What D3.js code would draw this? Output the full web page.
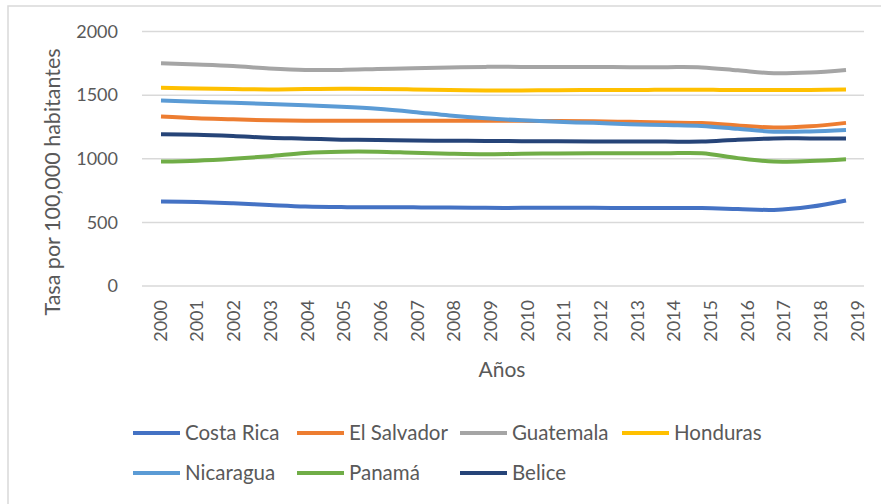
<!DOCTYPE html>
<html>
<head>
<meta charset="utf-8">
<script src="https://cdn.jsdelivr.net/npm/d3@7/dist/d3.min.js"></script>
<style>
  html, body { margin: 0; padding: 0; background: #fff; }
  svg { display: block; }
  text { font-family: Lato, "Open Sans", sans-serif; fill: #595959; }
</style>
</head>
<body>
<svg id="chart" width="881" height="504"></svg>
<script>
// Tasa por 100,000 habitantes, 2000–2019
const years = ["2000","2001","2002","2003","2004","2005","2006","2007","2008","2009",
               "2010","2011","2012","2013","2014","2015","2016","2017","2018","2019"];
const yTicks = [0, 500, 1000, 1500, 2000];

const costaRica  = [665, 660, 650, 637, 625, 620, 619, 618, 616, 614, 614, 614, 614, 613, 613, 612, 605, 598, 622, 672];
const elSalvador = [1332, 1318, 1310, 1302, 1298, 1298, 1298, 1298, 1298, 1298, 1298, 1296, 1294, 1290, 1285, 1280, 1262, 1245, 1255, 1282];
const guatemala  = [1750, 1740, 1728, 1710, 1698, 1698, 1705, 1712, 1718, 1722, 1722, 1722, 1722, 1720, 1720, 1718, 1695, 1672, 1678, 1698];
const honduras   = [1558, 1552, 1548, 1545, 1548, 1550, 1548, 1545, 1540, 1537, 1537, 1538, 1540, 1540, 1542, 1542, 1540, 1540, 1540, 1545];
const nicaragua  = [1457, 1448, 1440, 1430, 1420, 1408, 1392, 1368, 1340, 1318, 1302, 1290, 1282, 1272, 1265, 1258, 1235, 1213, 1215, 1226];
const panama     = [978, 985, 1000, 1020, 1045, 1055, 1055, 1047, 1040, 1036, 1040, 1042, 1043, 1043, 1043, 1043, 1005, 978, 982, 996];
const belice     = [1192, 1188, 1178, 1165, 1158, 1150, 1147, 1143, 1141, 1140, 1138, 1137, 1136, 1135, 1135, 1135, 1150, 1160, 1160, 1160];

const seriesNames  = ["Costa Rica", "El Salvador", "Guatemala", "Honduras", "Nicaragua", "Panamá", "Belice"];
const seriesValues = [costaRica, elSalvador, guatemala, honduras, nicaragua, panama, belice];
const seriesColors = ["#4472C4", "#ED7D31", "#A5A5A5", "#FFC000", "#5B9BD5", "#70AD47", "#264478"];

const svg = d3.select("#chart");

// chart-area border
svg.append("rect")
  .attr("x", 8).attr("y", 6)
  .attr("width", 900).attr("height", 520)
  .attr("fill", "none")
  .attr("stroke", "#d9d9d9")
  .attr("stroke-width", 1.5);

const plotLeft = 142, plotRight = 864, plotTop = 31.5, plotBottom = 286;

const x = d3.scalePoint().domain(years).range([161, 846]);
const xLabels = d3.scalePoint().domain(years).range([160, 857]);
const y = d3.scaleLinear().domain([0, 2000]).range([plotBottom, plotTop]);

// horizontal gridlines
svg.append("g")
  .selectAll("line")
  .data(yTicks)
  .join("line")
  .attr("x1", plotLeft).attr("x2", plotRight)
  .attr("y1", d => y(d)).attr("y2", d => y(d))
  .attr("stroke", "#d9d9d9")
  .attr("stroke-width", 1.5);

// y axis labels
const yAxis = svg.append("g")
  .attr("transform", `translate(118,0)`)
  .call(d3.axisLeft(y).tickValues(yTicks).tickSize(0).tickPadding(0).tickFormat(d3.format("d")));
yAxis.select(".domain").remove();
yAxis.selectAll("text").style("font-size", "18px").style("font-family", "Lato, sans-serif").attr("fill", "#595959");

// x axis labels (rotated)
const xAxis = svg.append("g")
  .attr("transform", `translate(0,${plotBottom})`)
  .call(d3.axisBottom(xLabels).tickSize(0).tickPadding(0));
xAxis.select(".domain").remove();
xAxis.selectAll("text")
  .style("font-size", "18px").style("font-family", "Lato, sans-serif").attr("fill", "#595959")
  .attr("text-anchor", "end")
  .attr("transform", "rotate(-90)")
  .attr("x", -14).attr("y", 0).attr("dy", "0.35em");

// series lines
const line = d3.line()
  .x((d, i) => x(years[i]))
  .y(d => y(d))
  .curve(d3.curveCatmullRom.alpha(0.5));

svg.append("g")
  .selectAll("path")
  .data(seriesValues)
  .join("path")
  .attr("d", d => line(d))
  .attr("fill", "none")
  .attr("stroke", (d, i) => seriesColors[i])
  .attr("stroke-width", 4)
  .attr("stroke-linejoin", "round");

// axis titles
svg.append("text")
  .attr("transform", "translate(60,182) rotate(-90)")
  .attr("text-anchor", "middle")
  .style("font-size", "21.5px")
  .text("Tasa por 100,000 habitantes");

svg.append("text")
  .attr("x", 502).attr("y", 377)
  .attr("text-anchor", "middle")
  .style("font-size", "21px")
  .text("Años");

// legend
const legendX = [133, 297, 460, 622];
const legendY = [433, 473];
const legend = svg.append("g")
  .selectAll("g")
  .data(seriesNames)
  .join("g")
  .attr("transform", (d, i) => `translate(${legendX[i % 4]},${legendY[Math.floor(i / 4)]})`);
legend.append("line")
  .attr("x1", 0).attr("x2", 47).attr("y1", 0).attr("y2", 0)
  .attr("stroke", (d, i) => seriesColors[i])
  .attr("stroke-width", 4);
legend.append("text")
  .attr("x", 52).attr("y", 0).attr("dy", "0.35em")
  .style("font-size", "20.5px")
  .text(d => d);
</script>
</body>
</html>
